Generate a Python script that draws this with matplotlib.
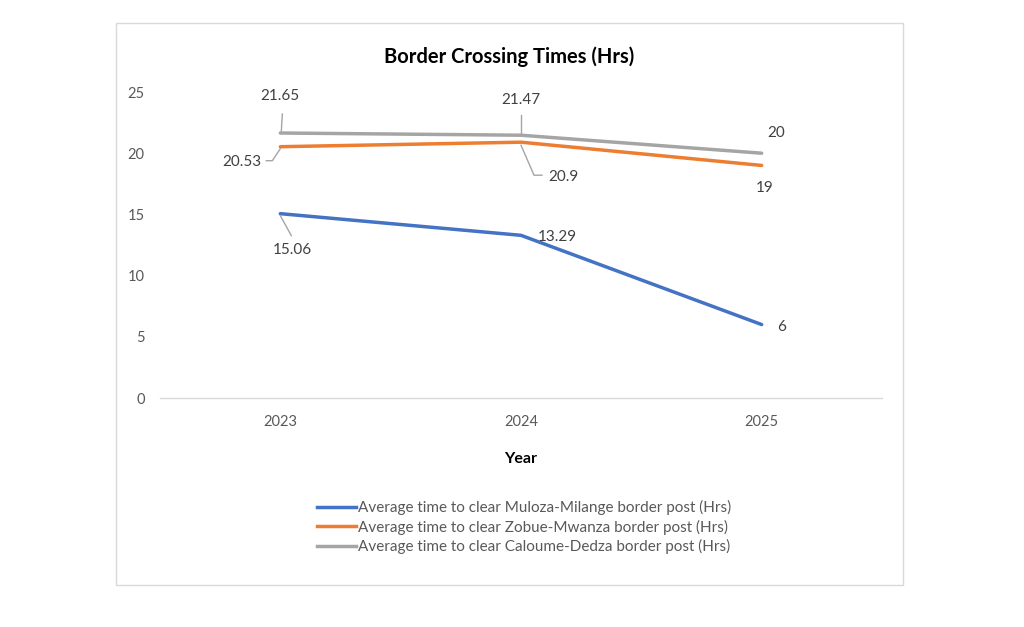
import matplotlib
matplotlib.use("Agg")
import matplotlib.pyplot as plt
from matplotlib.lines import Line2D
from matplotlib.patches import Rectangle
from matplotlib.transforms import IdentityTransform

plt.rcParams['font.family'] = ['Lato', 'DejaVu Sans']

years = ["2023", "2024", "2025"]
muloza = [15.06, 13.29, 6]
zobue = [20.53, 20.9, 19]
caloume = [21.65, 21.47, 20]
series_names = [
    "Average time to clear Muloza-Milange border post (Hrs)",
    "Average time to clear Zobue-Mwanza border post (Hrs)",
    "Average time to clear Caloume-Dedza border post (Hrs)",
]
colors = ["#4472C4", "#ED7D31", "#A5A5A5"]
label_col = "#404040"
tick_col = "#595959"

fig = plt.figure(figsize=(10.24, 6.27), dpi=100)
fig.patch.set_facecolor("white")
fig.add_artist(Rectangle((116/1024, 42/627), 787/1024, 562/627,
                         transform=fig.transFigure, fill=False,
                         edgecolor="#D9D9D9", linewidth=1))

ax = fig.add_axes([160/1024, 229/627, 722/1024, 306/627])
xs = [i + 0.5 for i in range(len(years))]
for vals, c, n in zip([muloza, zobue, caloume], colors, series_names):
    ax.plot(xs, vals, color=c, linewidth=2.5, label=n, solid_capstyle="round")

ax.set_xlim(0, 3)
ax.set_ylim(0, 25)
ax.set_yticks([0, 5, 10, 15, 20, 25])
ax.set_xticks(xs)
ax.set_xticklabels(years)
for s in ["top", "right", "left"]:
    ax.spines[s].set_visible(False)
ax.spines["bottom"].set_color("#D9D9D9")
ax.spines["bottom"].set_linewidth(1)
ax.tick_params(axis="both", length=0, labelsize=10.5, labelcolor=tick_col)
ax.tick_params(axis="y", pad=11)
ax.tick_params(axis="x", pad=12)
ax.set_xlabel("Year", fontsize=11.5, fontweight="bold", color="black", labelpad=17)
fig.text(509/1024, 1 - 57/627, "Border Crossing Times (Hrs)", ha="center", va="center",
         fontsize=14.5, fontweight="bold", color="black")

# data labels: (series values, index, text offset px, ha, leader offsets px)
labels = [
    (caloume, 0, (0, 37), "center", [(1, 2), (2, 19)]),
    (caloume, 1, (0, 35), "center", [(0, 2), (0, 20)]),
    (caloume, 2, (15, 20), "center", None),
    (zobue, 0, (-19, -15), "right", [(0, -2), (-8, -14), (-14, -14)]),
    (zobue, 1, (27, -35), "left", [(0, -3), (13, -33), (21, -33)]),
    (zobue, 2, (3, -23), "center", None),
    (muloza, 0, (12, -36), "center", [(0, -2), (11, -22)]),
    (muloza, 1, (36, -2), "center", None),
    (muloza, 2, (20, -2), "center", None),
]
for vals, i, off, ha, leader in labels:
    v = vals[i]
    txt = f"{v:g}"
    ax.annotate(txt, (xs[i], v), xytext=off, textcoords="offset pixels",
                ha=ha, va="center", fontsize=11, color=label_col)
    if leader:
        px, py = ax.transData.transform((xs[i], v))
        lx = [px + d[0] for d in leader]
        ly = [py + d[1] for d in leader]
        fig.add_artist(Line2D(lx, ly, transform=IdentityTransform(),
                              color="#A5A5A5", linewidth=1))

handles = [Line2D([0], [0], color=c, linewidth=2.5) for c in colors]
fig.legend(handles, series_names, loc="center", bbox_to_anchor=(524/1024, 1 - 527/627),
           frameon=False, fontsize=11, handlelength=2.6, handletextpad=0.1,
           labelspacing=0.3, labelcolor=tick_col)

fig.savefig("out.png", dpi=100, facecolor="white")
